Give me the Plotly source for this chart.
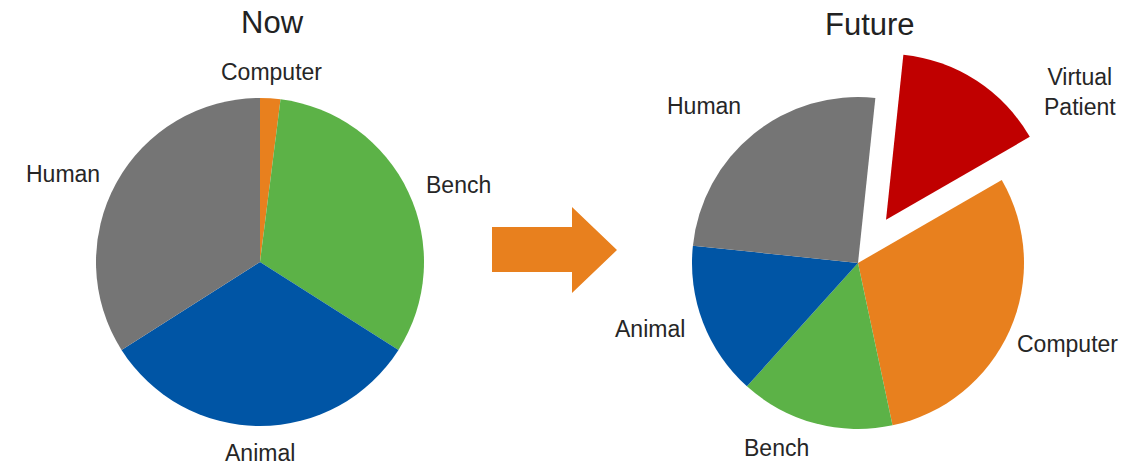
import math
import plotly.graph_objects as go

W, H = 1136, 468

# ---- data ----
now_labels = ["Computer", "Bench", "Animal", "Human"]
now_values = [2, 32, 32, 34]

future_labels = ["Virtual Patient", "Computer", "Bench", "Animal", "Human"]
future_values = [15, 30, 15, 15, 25]

titles = ["Now", "Future"]

# ---- styles ----
colors = {
    "Computer": "#e8801e",
    "Bench": "#5cb247",
    "Animal": "#0055a5",
    "Human": "#757575",
    "Virtual Patient": "#c00000",
}
FONT = "Liberation Sans, Arial, sans-serif"
TXT = "#262626"
LABEL_SIZE = 23
GAP = 18
label_nudge = {
    ("Now", "Animal"): (0, -5),
    ("Now", "Computer"): (0, 6),
    ("Future", "Virtual Patient"): (57, 55),
    ("Future", "Computer"): (-10, 6),
    ("Future", "Bench"): (0, -7),
}


def dom(cx, cy, r):
    """pixel centre/radius -> paper domain (margins are zero)"""
    return dict(x=[(cx - r) / W, (cx + r) / W],
                y=[(H - cy - r) / H, (H - cy + r) / H])


def fmt(lbl):
    return lbl.replace(" ", "<br>")


fig = go.Figure()


def add_labels(name, labels, values, rot, cx, cy, r, only=None, skip=None):
    tot = sum(values)
    acc = 0
    for l, v in zip(labels, values):
        a = math.radians(rot + (acc + v / 2) / tot * 360)
        acc += v
        if (only and l != only) or (skip and l == skip):
            continue
        s, c = math.sin(a), math.cos(a)
        px = cx + (r + GAP) * s
        py = cy - (r + GAP) * c
        dx, dy = label_nudge.get((name, l), (0, 0))
        px += dx
        py += dy
        xa = "left" if s > 0.25 else ("right" if s < -0.25 else "center")
        ya = "bottom" if c > 0.5 else ("top" if c < -0.5 else "middle")
        fig.add_annotation(text=fmt(l), x=px / W, y=(H - py) / H, xref="paper", yref="paper",
                           showarrow=False, xanchor=xa, yanchor=ya, align="center",
                           borderpad=0,
                           font=dict(family=FONT, size=LABEL_SIZE, color=TXT))


# Now pie
N_CX, N_CY, N_R = 260, 262, 164
fig.add_trace(go.Pie(
    labels=now_labels, values=now_values, sort=False, direction="clockwise",
    rotation=0, domain=dom(N_CX, N_CY, N_R),
    marker=dict(colors=[colors[l] for l in now_labels], line=dict(width=0)),
    textinfo="none", showlegend=False, hoverinfo="label+percent",
))
add_labels("Now", now_labels, now_values, 0, N_CX, N_CY, N_R)

# Future pie: main body (exploded slice hidden here)
F_ROT = 6
F_R = 166
F_CX, F_CY = 858, 263
PULL = 0.31
exploded = "Virtual Patient"

fig.add_trace(go.Pie(
    labels=future_labels, values=future_values, sort=False, direction="clockwise",
    rotation=F_ROT, domain=dom(F_CX, F_CY, F_R),
    marker=dict(colors=["rgba(0,0,0,0)" if l == exploded else colors[l] for l in future_labels],
                line=dict(width=0)),
    textinfo="none", showlegend=False, hoverinfo="label+percent",
))
add_labels("Future", future_labels, future_values, F_ROT, F_CX, F_CY, F_R, skip=exploded)

# exploded slice: same pie shifted along the slice's mid angle
tot = sum(future_values)
i = future_labels.index(exploded)
start = sum(future_values[:i]) / tot * 360 + F_ROT
mid = math.radians(start + future_values[i] / tot * 180)
ex_cx = F_CX + PULL * F_R * math.sin(mid)
ex_cy = F_CY - PULL * F_R * math.cos(mid)

fig.add_trace(go.Pie(
    labels=future_labels, values=future_values, sort=False, direction="clockwise",
    rotation=F_ROT, domain=dom(ex_cx, ex_cy, F_R),
    marker=dict(colors=[colors[l] if l == exploded else "rgba(0,0,0,0)" for l in future_labels],
                line=dict(width=0)),
    textinfo="none", showlegend=False, hoverinfo="label+percent",
))
add_labels("Future", future_labels, future_values, F_ROT, ex_cx, ex_cy, F_R, only=exploded)

# titles
for t, cx, cy in zip(titles, [272, 870], [22, 24]):
    fig.add_annotation(text=t, x=cx / W, y=(H - cy) / H, xref="paper", yref="paper",
                       showarrow=False, xanchor="center", yanchor="middle",
                       font=dict(family=FONT, size=31, color="#222222"))

# arrow between the pies
pts = [(492, 227), (572, 227), (572, 207), (617, 250), (572, 293), (572, 272), (492, 272)]
path = "M " + " L ".join(f"{x / W:.5f},{(H - y) / H:.5f}" for x, y in pts) + " Z"
fig.add_shape(type="path", path=path, xref="paper", yref="paper",
              fillcolor="#e8801e", line=dict(width=0))

fig.update_layout(
    width=W, height=H, margin=dict(l=0, r=0, t=0, b=0),
    paper_bgcolor="white", plot_bgcolor="white",
    font=dict(family=FONT, color=TXT),
)

fig.write_html("out.html")
